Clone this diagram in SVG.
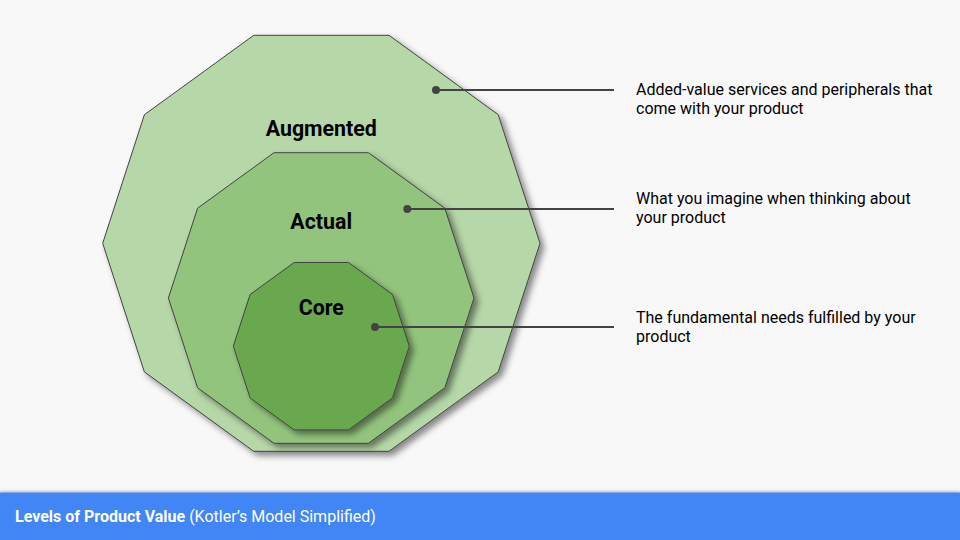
<svg xmlns="http://www.w3.org/2000/svg" width="960" height="540" viewBox="0 0 960 540">
  <style>
    .poly { stroke: #434343; stroke-width: 1; stroke-linejoin: miter; filter: url(#shadow); }
    .lvl { font-family: Roboto, "Liberation Sans", sans-serif; font-weight: bold; font-size: 21.33px; fill: #000000; text-anchor: middle; }
    .desc { font-family: Roboto, "Liberation Sans", sans-serif; font-size: 16px; fill: #000000; }
    .conn { stroke: #434343; stroke-width: 2; fill: none; }
    .dot { fill: #434343; }
    .foot { font-family: Roboto, "Liberation Sans", sans-serif; font-size: 16px; fill: #ffffff; }
  </style>
  <defs>
    <filter id="shadow" x="-10%" y="-10%" width="125%" height="125%">
      <feDropShadow dx="4" dy="4" stdDeviation="3" flood-color="#000000" flood-opacity="0.45"/>
    </filter>
    <filter id="barShadow" x="-5%" y="-20%" width="110%" height="140%">
      <feDropShadow dx="0" dy="-1" stdDeviation="1.5" flood-color="#000000" flood-opacity="0.3"/>
    </filter>
  </defs>
  <rect x="0" y="0" width="960" height="540" fill="#f8f8f8"/>

  <g id="augmented">
    <polygon class="poly" fill="#b6d7a8" points="253.7,35.3 389,35.3 498.2,114.7 540,243.3 498.2,371.9 389,451.3 253.7,451.3 144.4,371.9 102.7,243.3 144.4,114.7"/>
    <text class="lvl" x="321.3" y="136">Augmented</text>
  </g>
  <g id="actual">
    <polygon class="poly" fill="#93c47d" points="274,152.7 368.4,152.7 444.8,208.2 474,298 444.8,387.8 368.4,443.3 274,443.3 197.6,387.8 168.4,298 197.6,208.2"/>
    <text class="lvl" x="321.2" y="229">Actual</text>
  </g>
  <g id="core">
    <polygon class="poly" fill="#6aa84f" points="294.1,262.5 348.5,262.5 392.5,294.5 409.3,346.2 392.5,397.9 348.5,429.9 294.1,429.9 250.1,397.9 233.3,346.2 250.1,294.5"/>
    <text class="lvl" x="321.3" y="315">Core</text>
  </g>

  <g id="connectors">
    <line class="conn" x1="436" y1="90" x2="614" y2="90"/>
    <circle class="dot" cx="436" cy="90" r="4"/>
    <line class="conn" x1="407.3" y1="209" x2="614" y2="209"/>
    <circle class="dot" cx="407.3" cy="209" r="4"/>
    <line class="conn" x1="375" y1="327" x2="614" y2="327"/>
    <circle class="dot" cx="375" cy="327" r="4"/>
  </g>

  <g id="desc-augmented">
    <text class="desc" x="636" y="95">Added-value services and peripherals that</text>
    <text class="desc" x="636" y="114">come with your product</text>
  </g>
  <g id="desc-actual">
    <text class="desc" x="636" y="204">What you imagine when thinking about</text>
    <text class="desc" x="636" y="223">your product</text>
  </g>
  <g id="desc-core">
    <text class="desc" x="636" y="323">The fundamental needs fulfilled by your</text>
    <text class="desc" x="636" y="342">product</text>
  </g>

  <g id="footer">
    <rect x="0" y="492.5" width="960" height="48" fill="#4285f4" filter="url(#barShadow)"/>
    <text class="foot" x="15" y="522"><tspan font-weight="bold">Levels of Product Value</tspan> (Kotler’s Model Simplified)</text>
  </g>
</svg>
